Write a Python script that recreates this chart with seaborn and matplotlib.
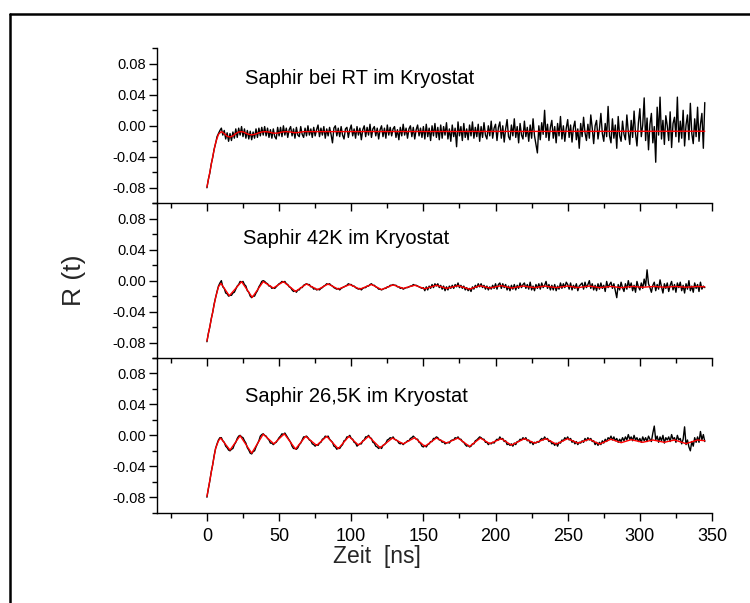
import numpy as np
import pandas as pd
import matplotlib
matplotlib.use("Agg")
import matplotlib.pyplot as plt
from matplotlib.ticker import MultipleLocator, FixedLocator, FormatStrFormatter
from matplotlib.lines import Line2D
import seaborn as sns

# ---------------- data (R(t) values in units of 1e-3) ----------------
panel_titles = ["Saphir bei RT im Kryostat", "Saphir 42K im Kryostat", "Saphir 26,5K im Kryostat"]
x_major_ticks = [0, 50, 100, 150, 200, 250, 300, 350]
y_major_ticks = [-0.08, -0.04, 0.00, 0.04, 0.08]

# measured traces, sampled every 1 ns starting at t = 0
data_rt = [
    -80, -69, -61, -49, -41, -30, -23, -14, -10, -6,
    -3, -12, -6, -17, -9, -20, -10, -19, -8, -16,
    -4, -15, -3, -12, -1, -14, -4, -16, -6, -17,
    -7, -18, -8, -16, -4, -15, -3, -13, -2, -12,
    -1, -13, -3, -15, -5, -16, -4, -14, -17, -2,
    -13, -2, -14, 0, -12, -3, -15, -5, -1, -13,
    -4, -16, -2, -12, -14, -1, -11, -15, -3, -13,
    0, -12, -4, -15, -2, -13, -5, 1, -14, -3,
    -12, -1, -16, -4, -13, -2, -11, -22, -3, 0,
    -13, -3, -14, -1, -12, -17, -4, -2, -15, -5,
    1, -13, -4, -16, -1, -12, -3, -18, -5, 0,
    -14, -2, -12, 2, -15, -4, -1, -13, -3, -17,
    -5, 0, -14, -3, -16, 1, -12, -2, -13, -4,
    -1, -15, -5, -18, -2, -13, 2, -12, -3, -16,
    -4, 0, -14, -2, -17, -5, 1, -13, -3, -15,
    -1, -17, 2, -14, -3, -19, 0, -13, 3, -15,
    -2, -18, 1, -16, -1, -12, 4, -17, -4, -20,
    1, -14, -3, -27, 5, -13, -1, -19, 3, -15,
    -4, -18, 1, -13, 5, -16, -2, -14, 2, -20,
    -1, -15, 4, -12, -17, 0, -13, 6, -16, -3,
    2, -19, -2, 5, -16, 0, -21, -4, 8, -14,
    -18, 1, -13, 9, -15, -1, -22, 3, -12, -17,
    6, -14, -2, -20, 1, -16, 9, -13, -24, -35,
    0, -18, 4, -11, 20, -15, 2, -19, -2, 7,
    -16, -1, -22, 3, -13, 12, -17, 0, -20, -3,
    8, -15, 1, -21, -2, 6, -18, -4, -29, 3,
    -14, 11, -9, -19, 2, -16, 14, -3, -23, 0,
    7, -17, -4, 16, -10, -20, 3, -14, 25, -13,
    -22, 9, -16, 1, -29, 12, -13, -20, 6, -11,
    -18, 14, -8, -24, 7, -15, 19, -10, -26, 4,
    22, -14, 1, 36, -19, 10, -31, 2, 16, -22,
    -1, -47, 24, -12, 37, -17, 7, -24, 13, 0,
    -19, 18, -28, 3, 11, -14, 37, -21, 6, -16,
    20, -26, 1, 14, -18, 29, -10, -23, 9, -14,
    24, -20, 2, 16, -29, 30,
]
data_42k = [
    -79, -68, -60, -49, -41, -30, -22, -14, -7, -3,
    0, -8, -10, -16, -17, -20, -19, -19, -16, -15,
    -11, -7, -5, -1, -2, -1, -5, -7, -13, -15,
    -20, -22, -20, -20, -16, -13, -8, -5, -1, 0,
    -1, -3, -4, -7, -7, -10, -9, -10, -8, -6,
    -4, -3, -1, -2, -1, -4, -5, -8, -9, -12,
    -14, -13, -15, -12, -12, -9, -9, -6, -5, -4,
    -5, -5, -8, -8, -11, -10, -12, -11, -12, -10,
    -9, -7, -6, -4, -5, -4, -6, -7, -9, -10,
    -11, -10, -12, -10, -9, -8, -7, -6, -4, -5,
    -5, -7, -7, -9, -10, -11, -10, -12, -10, -9,
    -9, -7, -7, -5, -4, -6, -6, -8, -9, -11,
    -11, -12, -11, -10, -10, -8, -8, -6, -6, -5,
    -6, -6, -8, -8, -10, -9, -11, -10, -9, -9,
    -8, -7, -7, -5, -6, -6, -7, -8, -9, -10,
    -9, -13, -8, -12, -7, -10, -5, -9, -4, -7,
    -4, -9, -6, -11, -7, -13, -8, -12, -7, -10,
    -6, -10, -5, -8, -3, -9, -6, -10, -7, -12,
    -9, -13, -10, -14, -8, -11, -6, -9, -4, -8,
    -4, -9, -6, -11, -7, -12, -8, -11, -6, -10,
    -4, -11, -5, -3, -10, -4, -9, -5, -12, -7,
    -13, -6, -11, -5, -12, -6, -10, -3, -9, -5,
    -3, -10, -5, -11, -2, -12, -7, -13, -5, -10,
    -4, -11, -3, -9, -6, -1, -10, -5, -12, -6,
    -12, -5, -13, -7, -11, -3, -10, -4, -9, -2,
    -5, -11, -3, -12, -6, -10, -4, -13, -7, -5,
    -3, -11, -2, -9, -5, 0, -10, -4, -12, -6,
    -13, -4, -11, -3, -10, -6, -14, -1, -9, -5,
    -2, -10, -4, -13, -22, -5, -12, -2, -9, -14,
    -4, -11, 0, -9, -3, -13, -6, -15, -1, -8,
    -12, -3, -10, 2, -7, 14, -4, -9, -15, -6,
    -2, -13, -5, -11, 1, -8, -16, -4, -10, -3,
    -14, -6, -1, -12, -5, -15, -3, -9, -2, -13,
    -6, -16, -4, -11, 0, -13, -7, -15, -3, -10,
    -5, -14, -2, -11, -7, -9,
]
data_26k = [
    -80, -69, -59, -47, -38, -26, -17, -11, -6, -3,
    -3, -7, -9, -14, -16, -19, -20, -18, -17, -12,
    -9, -4, -1, 0, -2, -3, -7, -10, -16, -19,
    -23, -24, -21, -20, -15, -11, -7, -1, 1, 2,
    0, -1, -4, -6, -10, -10, -12, -10, -9, -6,
    -3, -1, 2, 1, 3, 0, -3, -6, -9, -14,
    -17, -17, -18, -16, -12, -10, -6, -2, -2, -1,
    -3, -6, -7, -11, -12, -14, -12, -13, -10, -9,
    -5, -4, -1, -2, -1, -5, -7, -9, -14, -15,
    -18, -16, -17, -14, -12, -7, -6, -2, -2, 0,
    -4, -5, -9, -10, -14, -12, -11, -11, -7, -6,
    -2, -2, 0, -3, -4, -9, -10, -14, -15, -17,
    -15, -17, -13, -12, -10, -6, -5, -3, -4, -2,
    -5, -6, -7, -10, -11, -10, -12, -10, -9, -7,
    -7, -4, -3, -1, -3, -5, -5, -9, -10, -14,
    -15, -13, -15, -12, -11, -8, -8, -4, -4, -2,
    -3, -6, -6, -9, -8, -11, -10, -9, -10, -7,
    -6, -6, -3, -4, -2, -5, -5, -8, -9, -12,
    -14, -13, -15, -14, -11, -11, -7, -6, -4, -2,
    -3, -5, -5, -9, -9, -12, -10, -11, -9, -10,
    -7, -5, -6, -2, -5, -4, -8, -7, -12, -11,
    -13, -11, -14, -10, -12, -8, -8, -5, -6, -3,
    -5, -3, -7, -6, -10, -8, -12, -9, -10, -8,
    -9, -6, -4, -6, -2, -5, -4, -8, -7, -11,
    -10, -13, -10, -14, -9, -10, -6, -7, -3, -5,
    -2, -6, -4, -9, -7, -11, -8, -12, -9, -10,
    -7, -9, -4, -7, -3, -6, -4, -8, -7, -12,
    -9, -13, -9, -12, -7, -10, -5, -8, -3, -5,
    -1, -6, -2, -7, -4, -9, -5, -8, -3, -7,
    -2, -6, 1, -5, -2, -7, 0, -6, -3, -8,
    -4, -9, -2, -7, -3, -8, -1, -5, -8, 3,
    12, -6, -1, -9, -2, -7, 0, -10, -3, -6,
    -2, -8, 1, -5, -3, -9, 0, -6, -4, -11,
    -5, 11, -12, -6, -15, -20, -8, -14, -3, -9,
    -2, -9, 5, -6, 1, -8,
]

# fitted curves (red), read at their turning points
fit_rt_t = [0, 2, 4, 6, 8, 10, 12, 14, 16, 18, 20, 22, 24, 26, 28, 30, 32, 34, 36, 38,
            40, 43, 46, 49, 52, 55, 58, 61, 64, 67, 70, 345]
fit_rt = [-79, -60, -40, -22, -11, -7.5, -10, -13.5, -14.5, -13, -10, -8, -7.5, -8.5, -10.5,
          -11.5, -11.5, -10.5, -9, -8, -7.5, -8, -9.5, -9.5, -8, -7.5, -8, -9, -8.5, -7.5, -7.5, -7]

fit_42k_t = [0, 3, 6, 8, 9.7, 15.5, 24, 31.4, 39, 46, 53, 61.4, 69, 76.7, 84, 91, 99, 106, 114, 121,
             129, 136, 144, 151, 159, 166, 174, 182, 189, 196, 204, 211, 219, 227, 234, 242, 250,
             257, 265, 272, 280, 287, 295, 302, 310, 317, 325, 332, 340, 345]
fit_42k = [-78, -50, -22, -8, -3.5, -19.5, -1.3, -21.6, -1.3, -9.5, -1.3, -13.9, -4.3, -11.7, -4.3,
           -11, -5, -11, -5, -11.5, -5.5, -10, -6, -10.5, -6, -10, -6.5, -11, -6.5, -9.5, -6.5,
           -9.5, -7, -9, -7, -9, -7, -9, -7, -9, -7.5, -9, -7.5, -8.5, -7.5, -8.5, -7.5, -8.5, -7.5, -8]

fit_26k_t = [0, 3, 6, 8, 9.5, 16, 23, 31, 39, 46.4, 53.6, 61.4, 68.4, 76, 83, 91, 98.4, 105, 112, 120,
             128.6, 136, 144, 151, 159, 166, 174, 182, 189.5, 196, 204, 211, 220, 227, 235, 242, 250,
             257, 265, 272, 280, 287, 294, 302, 309, 317, 324, 332, 340, 345]
fit_26k = [-79, -48, -17, -7, -3.5, -19, -0.5, -23, 1.5, -11, 2, -17.7, -1.3, -13, -1.3, -17.3, -1.3,
           -12.6, -1.3, -16, -3.5, -11, -3, -14.3, -3.5, -10, -3.5, -14.3, -3.5, -10.7, -4.3, -12.6,
           -4.3, -10, -4.3, -11.3, -4.3, -10, -5, -11.3, -5, -9.5, -5.6, -9, -6, -9, -6, -10.7, -6, -7]

panels = [(data_rt, fit_rt_t, fit_rt), (data_42k, fit_42k_t, fit_42k), (data_26k, fit_26k_t, fit_26k)]
title_pos = [(26.3, 0.0538), (25.2, 0.0476), (26.3, 0.0433)]

# ---------------- style ----------------
sns.set_style("ticks")
plt.rcParams["font.family"] = ["Liberation Sans", "DejaVu Sans"]

W, H = 750, 603
fig = plt.figure(figsize=(7.5, 6.03), dpi=100)

left = 157 / W
width = (712 - 157) / W
rows_px = [(48.3, 203.3), (203.3, 358.0), (358.0, 512.7)]

axes = []
for i, (top_px, bot_px) in enumerate(rows_px):
    ax = fig.add_axes([left, 1 - bot_px / H, width, (bot_px - top_px) / H])
    axes.append(ax)
    data, ft, fy = panels[i]
    t = np.arange(len(data))
    df = pd.DataFrame({"t": t, "R": np.asarray(data, float) * 1e-3})
    dff = pd.DataFrame({"t": ft, "R": np.asarray(fy, float) * 1e-3})
    sns.lineplot(data=df, x="t", y="R", ax=ax, color="black", linewidth=1.0,
                 errorbar=None, sort=False)
    sns.lineplot(data=dff, x="t", y="R", ax=ax, color="#ff0000", linewidth=1.0,
                 errorbar=None, sort=False)

    ax.set_xlim(-34.6, 350)
    ax.set_ylim(-0.10, 0.10)
    ax.set_xlabel("")
    ax.set_ylabel("")
    for s in ["top", "right"]:
        ax.spines[s].set_visible(False)
    for s in ["left", "bottom"]:
        ax.spines[s].set_linewidth(1.0)
        ax.spines[s].set_color("black")

    ax.xaxis.set_major_locator(FixedLocator(x_major_ticks))
    ax.xaxis.set_minor_locator(MultipleLocator(25))
    ax.yaxis.set_major_locator(FixedLocator(y_major_ticks))
    ax.yaxis.set_minor_locator(MultipleLocator(0.02))
    ax.yaxis.set_major_formatter(FormatStrFormatter("%.2f"))
    ax.tick_params(axis="both", which="major", direction="out", length=6, width=1.0,
                   color="black", labelcolor="black")
    ax.tick_params(axis="both", which="minor", direction="out", length=3.5, width=1.0,
                   color="black")
    ax.tick_params(axis="y", which="major", labelsize=10.5, pad=2)
    if i < 2:
        ax.tick_params(axis="x", which="both", labelbottom=False)
    else:
        ax.tick_params(axis="x", which="major", labelsize=13, pad=5)
    ax.patch.set_alpha(0)

    tx, ty = title_pos[i]
    ax.text(tx, ty, panel_titles[i], fontsize=14.5, ha="left", va="baseline", color="black")

fig.text(377 / W, 1 - 557 / H, "Zeit  [ns]", fontsize=16.5, ha="center", va="center")
fig.text(74 / W, 1 - 280 / H, "R (t)", rotation=90, fontsize=19, ha="center", va="center")

# outer frame (only left and top edges visible in the picture)
fx = 9.5 / W
fy_ = 1 - 13.5 / H
fig.add_artist(Line2D([fx, fx], [0, fy_], transform=fig.transFigure, color="black", linewidth=1.8))
fig.add_artist(Line2D([fx, 1], [fy_, fy_], transform=fig.transFigure, color="black", linewidth=1.8))

fig.savefig("out.png", dpi=100, facecolor="white")
